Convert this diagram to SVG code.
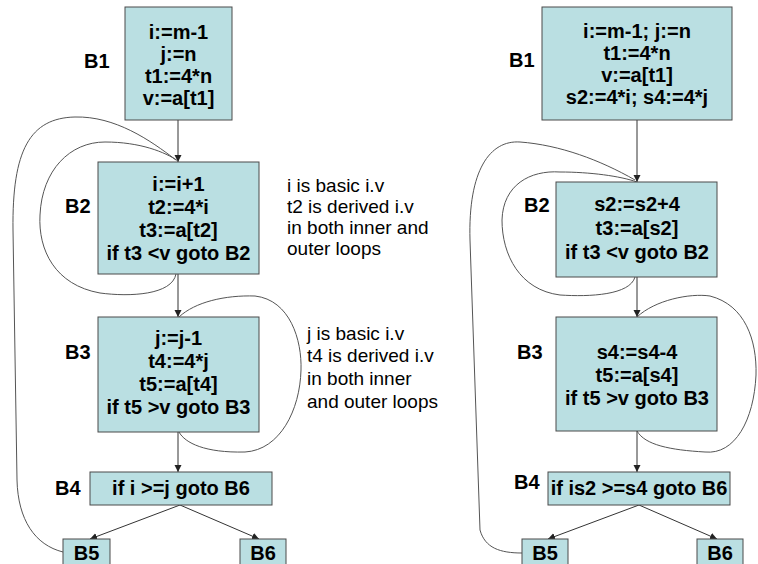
<svg xmlns="http://www.w3.org/2000/svg" width="758" height="564" viewBox="0 0 758 564">
<defs>
<style>
.box{fill:#BADFE2;stroke:#4a4a4a;stroke-width:1}
.bt{font-family:"Liberation Sans",Arial,sans-serif;font-weight:bold;font-size:20px;fill:#000;text-anchor:middle}
.lb{font-family:"Liberation Sans",Arial,sans-serif;font-weight:bold;font-size:20px;fill:#000}
.an{font-family:"Liberation Sans",Arial,sans-serif;font-size:19px;fill:#000}
.ln{fill:none;stroke:#333;stroke-width:1}
.cv{fill:none;stroke:#555;stroke-width:1}
</style>
<marker id="ah" markerWidth="8" markerHeight="8" refX="7" refY="4" orient="auto" markerUnits="userSpaceOnUse">
<path d="M0,0.5 L7,4 L0,7.5 Z" fill="#222"/>
</marker>
</defs>
<rect width="758" height="564" fill="#fff"/>

<g id="connectors">
<!-- left -->
<line class="ln" x1="178" y1="120" x2="178" y2="162" marker-end="url(#ah)"/>
<line class="ln" x1="178" y1="274" x2="178" y2="317" marker-end="url(#ah)"/>
<line class="ln" x1="178" y1="432" x2="178" y2="472" marker-end="url(#ah)"/>
<line class="ln" x1="180" y1="505" x2="90" y2="539" marker-end="url(#ah)"/>
<line class="ln" x1="180" y1="505" x2="259" y2="539" marker-end="url(#ah)"/>
<path class="cv" d="M63,552 C35,545 18,520 17,480 L13,230 C12,150 30,118 75,117 C115,116 150,140 176,160"/>
<path class="cv" d="M176,274 C172,295 130,297 100,293 C55,285 38,250 40,215 C42,170 70,142 105,142 C140,142 165,152 178,161"/>
<path class="cv" d="M179,317 C195,302 225,295 255,296 C290,300 302,340 301,370 C300,410 280,450 245,452 C205,453 185,443 179,432"/>
<!-- right -->
<line class="ln" x1="637" y1="120" x2="637" y2="182" marker-end="url(#ah)"/>
<line class="ln" x1="637" y1="277" x2="637" y2="317" marker-end="url(#ah)"/>
<line class="ln" x1="637" y1="431" x2="637" y2="472" marker-end="url(#ah)"/>
<line class="ln" x1="639" y1="505" x2="548" y2="539" marker-end="url(#ah)"/>
<line class="ln" x1="639" y1="505" x2="717" y2="539" marker-end="url(#ah)"/>
<path class="cv" d="M522,553 C500,553 485,548 480,530 L470,240 C468,170 490,140 520,142 C560,145 600,160 635,180"/>
<path class="cv" d="M635,277 C630,295 590,297 560,295 C520,290 502,255 502,220 C503,185 530,170 560,172 C590,172 620,176 637,182"/>
<path class="cv" d="M637,317 C655,300 690,293 710,296 C745,305 757,340 756,375 C754,420 735,455 705,452 C670,450 645,445 637,431"/>
</g>

<!-- left diagram -->
<g id="L-B1">
<rect class="box" x="125" y="7" width="107" height="113"/>
<text class="bt" x="178.5" y="39">i:=m-1</text>
<text class="bt" x="178.5" y="61">j:=n</text>
<text class="bt" x="178.5" y="83">t1:=4*n</text>
<text class="bt" x="178.5" y="105">v:=a[t1]</text>
<text class="lb" x="84" y="68">B1</text>
</g>
<g id="L-B2">
<rect class="box" x="98" y="162" width="161" height="112"/>
<text class="bt" x="178.5" y="191">i:=i+1</text>
<text class="bt" x="178.5" y="214">t2:=4*i</text>
<text class="bt" x="178.5" y="237">t3:=a[t2]</text>
<text class="bt" x="178.5" y="260">if t3 &lt;v goto B2</text>
<text class="lb" x="65" y="213">B2</text>
</g>
<g id="L-B3">
<rect class="box" x="98" y="317" width="161" height="115"/>
<text class="bt" x="178.5" y="345">j:=j-1</text>
<text class="bt" x="178.5" y="368">t4:=4*j</text>
<text class="bt" x="178.5" y="391">t5:=a[t4]</text>
<text class="bt" x="178.5" y="414">if t5 &gt;v goto B3</text>
<text class="lb" x="65" y="359">B3</text>
</g>
<g id="L-B4">
<rect class="box" x="90" y="472" width="182" height="33"/>
<text class="bt" x="181" y="495">if i &gt;=j goto B6</text>
<text class="lb" x="55" y="495">B4</text>
</g>
<g id="L-B5">
<rect class="box" x="63" y="539" width="47" height="30"/>
<text class="bt" x="86.5" y="560">B5</text>
</g>
<g id="L-B6">
<rect class="box" x="240" y="539" width="46" height="30"/>
<text class="bt" x="263" y="560">B6</text>
</g>
<g id="L-notes">
<text class="an" x="287" y="192">i is basic i.v</text>
<text class="an" x="287" y="213">t2 is derived i.v</text>
<text class="an" x="287" y="234">in both inner and</text>
<text class="an" x="287" y="255">outer loops</text>
<text class="an" x="307" y="340">j is basic i.v</text>
<text class="an" x="307" y="362">t4 is derived i.v</text>
<text class="an" x="307" y="385">in both inner</text>
<text class="an" x="307" y="408">and outer loops</text>
</g>

<!-- right diagram -->
<g id="R-B1">
<rect class="box" x="542" y="7" width="190" height="113"/>
<text class="bt" x="637" y="38">i:=m-1; j:=n</text>
<text class="bt" x="637" y="60">t1:=4*n</text>
<text class="bt" x="637" y="82">v:=a[t1]</text>
<text class="bt" x="637" y="104">s2:=4*i; s4:=4*j</text>
<text class="lb" x="509" y="67">B1</text>
</g>
<g id="R-B2">
<rect class="box" x="556" y="182" width="161" height="95"/>
<text class="bt" x="637" y="211">s2:=s2+4</text>
<text class="bt" x="637" y="235">t3:=a[s2]</text>
<text class="bt" x="637" y="259">if t3 &lt;v goto B2</text>
<text class="lb" x="524" y="212">B2</text>
</g>
<g id="R-B3">
<rect class="box" x="556" y="317" width="161" height="114"/>
<text class="bt" x="637" y="359">s4:=s4-4</text>
<text class="bt" x="637" y="382">t5:=a[s4]</text>
<text class="bt" x="637" y="405">if t5 &gt;v goto B3</text>
<text class="lb" x="517" y="359">B3</text>
</g>
<g id="R-B4">
<rect class="box" x="548" y="472" width="182" height="33"/>
<text class="bt" x="639" y="495">if is2 &gt;=s4 goto B6</text>
<text class="lb" x="514" y="489">B4</text>
</g>
<g id="R-B5">
<rect class="box" x="522" y="539" width="46" height="30"/>
<text class="bt" x="545" y="560">B5</text>
</g>
<g id="R-B6">
<rect class="box" x="697" y="539" width="46" height="30"/>
<text class="bt" x="720" y="560">B6</text>
</g>
</svg>
